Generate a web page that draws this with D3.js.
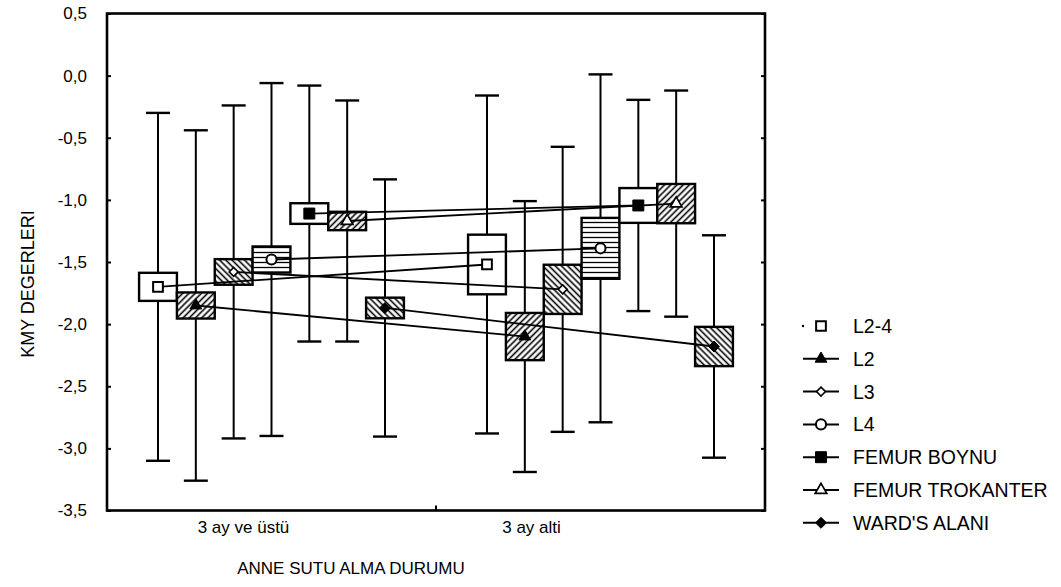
<!DOCTYPE html>
<html>
<head>
<meta charset="utf-8">
<script src="https://cdn.jsdelivr.net/npm/d3@7"></script>
<style>
  html, body { margin: 0; padding: 0; background: #fff; }
  svg { display: block; }
  text { font-family: "Liberation Sans", Arial, sans-serif; fill: #000; }
</style>
</head>
<body>
<svg id="chart" width="1061" height="587"></svg>
<script>
// Breastfeeding groups (x categories)
const categories = ["3 ay ve üstü", "3 ay alti"];
// Measurement sites (one box per site in each group)
const series = ["L2-4", "L2", "L3", "L4", "FEMUR BOYNU", "FEMUR TROKANTER", "WARD'S ALANI"];

// Group "3 ay ve üstü": mean, standard error (box), standard deviation (whisker)
const meanUstu = [-1.70, -1.85, -1.58, -1.48, -1.11, -1.17, -1.87];
const seUstu   = [0.113, 0.105, 0.103, 0.105, 0.083, 0.074, 0.083];
const sdUstu   = [1.40, 1.41, 1.34, 1.42, 1.03, 0.97, 1.035];

// Group "3 ay alti"
const meanAlti = [-1.52, -2.10, -1.72, -1.39, -1.045, -1.03, -2.18];
const seAlti   = [0.24, 0.19, 0.198, 0.245, 0.14, 0.158, 0.158];
const sdAlti   = [1.36, 1.09, 1.147, 1.40, 0.85, 0.91, 0.895];

const yTicks = [0.5, 0.0, -0.5, -1.0, -1.5, -2.0, -2.5, -3.0, -3.5];

const xTitle = "ANNE SUTU ALMA DURUMU";
const yTitle = "KMY DEGERLERI";

// regular (square-on-point) diamond symbol
const diamondSq = {
  draw(ctx, size) {
    const r = Math.sqrt(size / 2);
    ctx.moveTo(0, -r); ctx.lineTo(r, 0); ctx.lineTo(0, r); ctx.lineTo(-r, 0); ctx.closePath();
  }
};

// Per-site look: box fill and mean marker
const boxFill   = ["white", "url(#hatchF)", "url(#hatchB)", "url(#hatchH)", "white", "url(#hatchF)", "url(#hatchB)"];
const markShape = [d3.symbolSquare, d3.symbolTriangle, diamondSq, d3.symbolCircle, d3.symbolSquare, d3.symbolTriangle, diamondSq];
const markSize  = [95, 60, 40, 80, 120, 58, 60];
const markFill  = ["white", "black", "white", "white", "black", "white", "black"];
const markStroke = [2, 1, 1.6, 2, 1, 1.7, 1];

const svg = d3.select("#chart");
const L = 107, R = 765, T = 13.5, B = 510.5;

const x = d3.scaleBand().domain(categories).range([L, R]);
const bw = x.bandwidth();
const inner = d3.scalePoint().domain(series).range([-0.345 * bw, 0.345 * bw]);
const boxW = inner.step();
const y = d3.scaleLinear().domain([-3.5, 0.5]).range([B, T]);

// hatch patterns
const defs = svg.append("defs");
function hatch(id, angle, gap, sw) {
  const p = defs.append("pattern").attr("id", id)
    .attr("patternUnits", "userSpaceOnUse")
    .attr("width", gap).attr("height", gap)
    .attr("patternTransform", `rotate(${angle})`);
  p.append("rect").attr("width", gap).attr("height", gap).attr("fill", "white");
  p.append("line").attr("x1", gap / 2).attr("x2", gap / 2).attr("y1", -1).attr("y2", gap + 1)
    .attr("stroke", "black").attr("stroke-width", sw);
}
hatch("hatchF", 45, 4.4, 1.6);
hatch("hatchB", -45, 4.4, 1.6);
hatch("hatchH", 90, 5, 1.3);

// data table built from the arrays
const groups = [
  { cat: categories[0], mean: meanUstu, se: seUstu, sd: sdUstu },
  { cat: categories[1], mean: meanAlti, se: seAlti, sd: sdAlti }
];
const rows = [];
groups.forEach(g => series.forEach((s, i) => rows.push({
  cat: g.cat, s, i, mean: g.mean[i], se: g.se[i], sd: g.sd[i],
  cx: x(g.cat) + bw / 2 + inner(s)
})));

const plot = svg.append("g");

// whiskers (mean ± SD)
const wg = plot.append("g").attr("stroke", "black").attr("stroke-width", 2);
rows.forEach(d => {
  wg.append("line").attr("x1", d.cx).attr("x2", d.cx)
    .attr("y1", y(d.mean + d.sd)).attr("y2", y(d.mean - d.sd));
  [d.mean + d.sd, d.mean - d.sd].forEach(v => {
    wg.append("line").attr("x1", d.cx - 12).attr("x2", d.cx + 12)
      .attr("y1", y(v)).attr("y2", y(v)).attr("stroke-width", 2.4);
  });
});

// boxes (mean ± SE)
plot.append("g").selectAll("rect").data(rows).join("rect")
  .attr("x", d => d.cx - boxW / 2)
  .attr("width", boxW)
  .attr("y", d => y(d.mean + d.se))
  .attr("height", d => y(d.mean - d.se) - y(d.mean + d.se))
  .attr("fill", d => boxFill[d.i])
  .attr("stroke", "black").attr("stroke-width", 2.4);

// lines joining the two group means of each site
const line = d3.line().x(d => d.cx).y(d => y(d.mean));
series.forEach((s, i) => {
  plot.append("path").datum(rows.filter(r => r.i === i))
    .attr("d", line).attr("fill", "none")
    .attr("stroke", "black").attr("stroke-width", 1.8);
});

// mean markers
plot.append("g").selectAll("path").data(rows).join("path")
  .attr("transform", d => `translate(${d.cx},${y(d.mean)})`)
  .attr("d", d => d3.symbol(markShape[d.i], markSize[d.i])())
  .attr("fill", d => markFill[d.i])
  .attr("stroke", "black").attr("stroke-width", d => markStroke[d.i]);

// axes
const loc = d3.formatLocale({ decimal: ",", thousands: ".", grouping: [3], currency: ["", ""], minus: "-" });
const fmt = loc.format(".1f");

const yAxis = svg.append("g").attr("transform", `translate(${L},0)`)
  .call(d3.axisLeft(y).tickValues(yTicks).tickFormat(fmt).tickSizeInner(-4).tickSizeOuter(0).tickPadding(20));
yAxis.select(".domain").remove();
yAxis.selectAll(".tick line").attr("stroke-width", 2);
yAxis.selectAll("text").attr("font-size", 17);

const yAxisR = svg.append("g").attr("transform", `translate(${R},0)`)
  .call(d3.axisRight(y).tickValues(yTicks).tickFormat("").tickSizeInner(-4).tickSizeOuter(0));
yAxisR.select(".domain").remove();
yAxisR.selectAll(".tick line").attr("stroke-width", 2);

// frame
svg.append("rect").attr("x", L).attr("y", T).attr("width", R - L).attr("height", B - T)
  .attr("fill", "none").attr("stroke", "black").attr("stroke-width", 2.6);

// group boundary tick on the bottom axis
svg.append("line").attr("x1", x(categories[1])).attr("x2", x(categories[1]))
  .attr("y1", B).attr("y2", B - 5).attr("stroke", "black").attr("stroke-width", 2);

// category labels
const catDx = [-28, -69];
svg.append("g").selectAll("text").data(categories).join("text")
  .attr("x", (d, i) => x(d) + bw / 2 + catDx[i])
  .attr("y", 533)
  .attr("text-anchor", "middle").attr("font-size", 17)
  .text(d => d);

// axis titles
svg.append("text").attr("x", 351).attr("y", 574).attr("text-anchor", "middle")
  .attr("font-size", 17).text(xTitle);
svg.append("text").attr("transform", `translate(34,${(T + B) / 2 + 22}) rotate(-90)`)
  .attr("text-anchor", "middle").attr("font-size", 18).text(yTitle);

// legend
const lg = svg.append("g");
series.forEach((s, i) => {
  const ly = 326 + i * 32.8;
  const g = lg.append("g").attr("transform", `translate(0,${ly})`);
  if (i === 0) {
    g.append("circle").attr("cx", 803).attr("cy", 0).attr("r", 1.2).attr("fill", "black");
  } else {
    g.append("line").attr("x1", 803).attr("x2", 839).attr("stroke", "black").attr("stroke-width", 2);
  }
  g.append("path").attr("transform", "translate(821,0)")
    .attr("d", d3.symbol(markShape[i], markSize[i])())
    .attr("fill", markFill[i]).attr("stroke", "black").attr("stroke-width", markStroke[i]);
  g.append("text").attr("x", 853).attr("dy", "0.36em").attr("font-size", 19.5).text(s);
});
</script>
</body>
</html>
